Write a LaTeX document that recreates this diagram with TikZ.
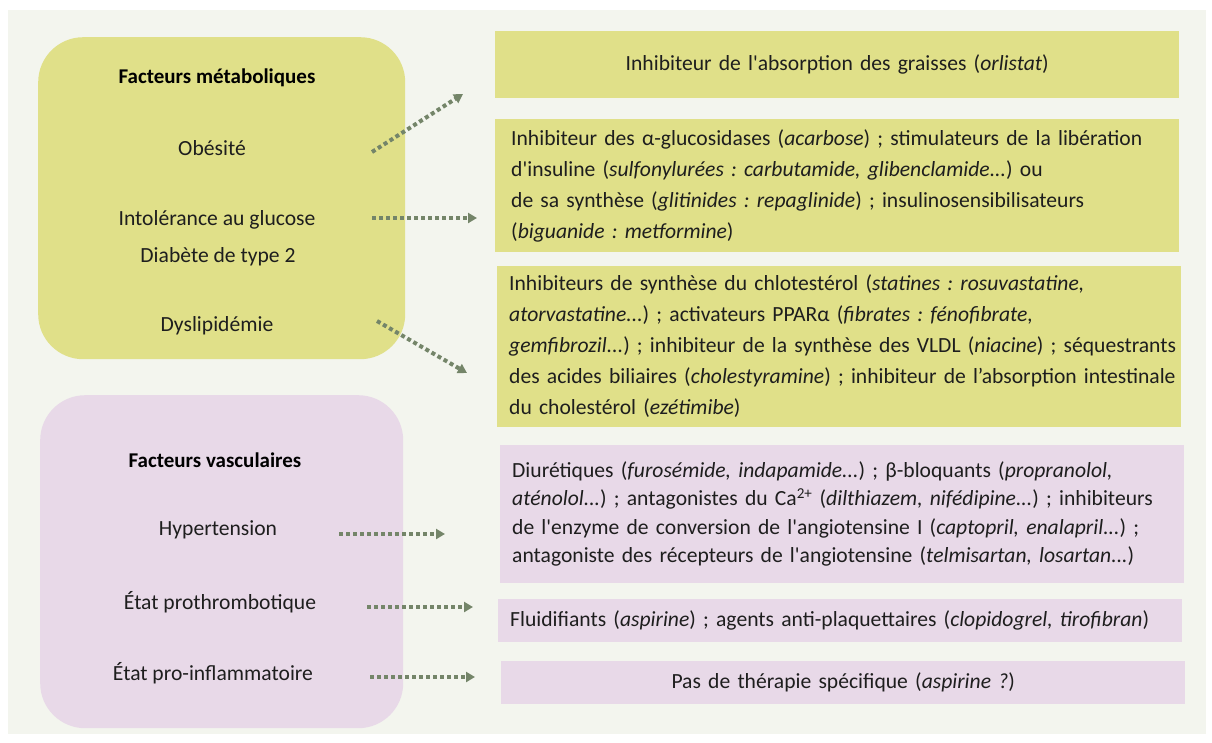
\documentclass[tikz,border=0pt]{standalone}
\usepackage{fontspec}
\setmainfont{Carlito}
\usepackage{tikz}
\usetikzlibrary{arrows.meta,positioning}
\frenchspacing

\definecolor{panelbg}{HTML}{F3F5EE}
\definecolor{metafill}{HTML}{E0E089}
\definecolor{vascfill}{HTML}{E8D9E8}
\definecolor{arrowcol}{HTML}{748569}
\definecolor{textcol}{HTML}{1E1E1E}
\newcommand{\apos}{\textquotesingle}

\begin{document}
\begin{tikzpicture}[
    x=1pt, y=-1pt,
    font=\fontsize{21.6}{31}\selectfont,
    >={Triangle[length=9pt,width=10pt]},
    group/.style={
        rectangle, rounded corners=45pt, anchor=north west,
        inner sep=0pt
    },
    title/.style={font=\fontsize{21}{31}\selectfont\bfseries, text=black},
    factor/.style={text=textcol},
    drug/.style={
        rectangle, anchor=north west, align=left,
        inner xsep=12pt, inner ysep=0pt,
        text width=660pt, text=textcol
    },
    arrow/.style={->, draw=arrowcol, line width=4pt, dash pattern=on 4pt off 3pt},
]
  \useasboundingbox (0,0) rectangle (1212,742);
  \fill[white] (0,0) rectangle (1212,742);
  \fill[panelbg] (8,10) rectangle (1206,734);

  %––– Risk factor groups ––––––––––––––––––––––––––––––––––
  \node (meta) [group, fill=metafill, minimum width=367pt, minimum height=322pt] at (38,37) {};
  \node (vasc) [group, fill=vascfill, minimum width=363pt, minimum height=333pt] at (40,395) {};

  \node (metatitle) [title]  at (217,78)  {Facteurs métaboliques};
  \node (obes)      [factor] at (212,148) {Obésité};
  \node (gluc)      [factor] at (217,220) {Intolérance au glucose};
  \node (diab)      [factor] at (218,257) {Diabète de type 2};
  \node (dysl)      [factor] at (217,326) {Dyslipidémie};

  \node (vasctitle) [title]  at (215,460) {Facteurs vasculaires};
  \node (hyper)     [factor] at (218,530) {Hypertension};
  \node (proth)     [factor] at (220,602) {État prothrombotique};
  \node (infl)      [factor] at (213,673) {État pro-inflammatoire};

  %––– Therapies –––––––––––––––––––––––––––––––––––––––––––
  \node (orl) [drug, fill=metafill, align=center, minimum height=67pt] at (495,31)
      {Inhibiteur de l\apos absorption des graisses (\textit{orlistat})};
  \node (antidiab) [drug, fill=metafill, minimum height=133pt, inner xsep=16pt, text width=652pt] at (495,119)
      {\begin{tabular}{@{}l@{}}
       Inhibiteur des α-glucosidases (\textit{acarbose}) ; stimulateurs de la libération\\
       d\apos insuline (\textit{sulfonylurées : carbutamide, glibenclamide...}) ou\\
       de sa synthèse (\textit{glitinides : repaglinide}) ; insulinosensibilisateurs\\
       (\textit{biguanide : metformine})
       \end{tabular}};
  \node (lipid) [drug, fill=metafill, minimum height=161pt] at (497,266)
      {\begin{tabular}{@{}l@{}}
       Inhibiteurs de synthèse du chlotestérol (\textit{statines : rosuvastatine,}\\
       \textit{atorvastatine...}) ; activateurs PPARα (\textit{fibrates : fénofibrate,}\\
       \textit{gemfibrozil...}) ; inhibiteur de la synthèse des VLDL (\textit{niacine}) ; séquestrants\\
       des acides biliaires (\textit{cholestyramine}) ; inhibiteur de l’absorption intestinale\\
       du cholestérol (\textit{ezétimibe})
       \end{tabular}};
  \node (antihyp) [drug, fill=vascfill, minimum height=138pt,
                   font=\fontsize{21.6}{28.5}\selectfont] at (500,445)
      {\begin{tabular}{@{}l@{}}
       Diurétiques (\textit{furosémide, indapamide...}) ; β-bloquants (\textit{propranolol,}\\
       \textit{aténolol...}) ; antagonistes du Ca\textsuperscript{2+} (\textit{dilthiazem, nifédipine...}) ; inhibiteurs\\
       de l\apos enzyme de conversion de l\apos angiotensine I (\textit{captopril, enalapril...}) ;\\
       antagoniste des récepteurs de l\apos angiotensine (\textit{telmisartan, losartan...})
       \end{tabular}};
  \node (fluid) [drug, fill=vascfill, minimum height=43pt] at (498,599)
      {Fluidifiants (\textit{aspirine}) ; agents anti-plaquettaires (\textit{clopidogrel, tirofibran})};
  \node (nother) [drug, fill=vascfill, align=center, minimum height=43pt] at (501,661)
      {Pas de thérapie spécifique (\textit{aspirine ?})};

  %––– Arrow ends ––––––––––––––––––––––––––––––––––––––––––
  \coordinate (obesS)  at (372,152);  \coordinate (orlT)      at (463,94);
  \coordinate (glucS)  at (372,218);  \coordinate (antidiabT) at (477,218);
  \coordinate (dyslS)  at (377,321);  \coordinate (lipidT)    at (467,373);
  \coordinate (hyperS) at (339,534);  \coordinate (antihypT)  at (445,534);
  \coordinate (prothS) at (367,607);  \coordinate (fluidT)    at (473,607);
  \coordinate (inflS)  at (370,677);  \coordinate (notherT)   at (475,677);

  %––– Arrows –––––––––––––––––––––––––––––––––––––––––––––
  \draw[arrow] (obesS)  -- (orlT);
  \draw[arrow] (glucS)  -- (antidiabT);
  \draw[arrow] (dyslS)  -- (lipidT);
  \draw[arrow] (hyperS) -- (antihypT);
  \draw[arrow] (prothS) -- (fluidT);
  \draw[arrow] (inflS)  -- (notherT);
\end{tikzpicture}
\end{document}
